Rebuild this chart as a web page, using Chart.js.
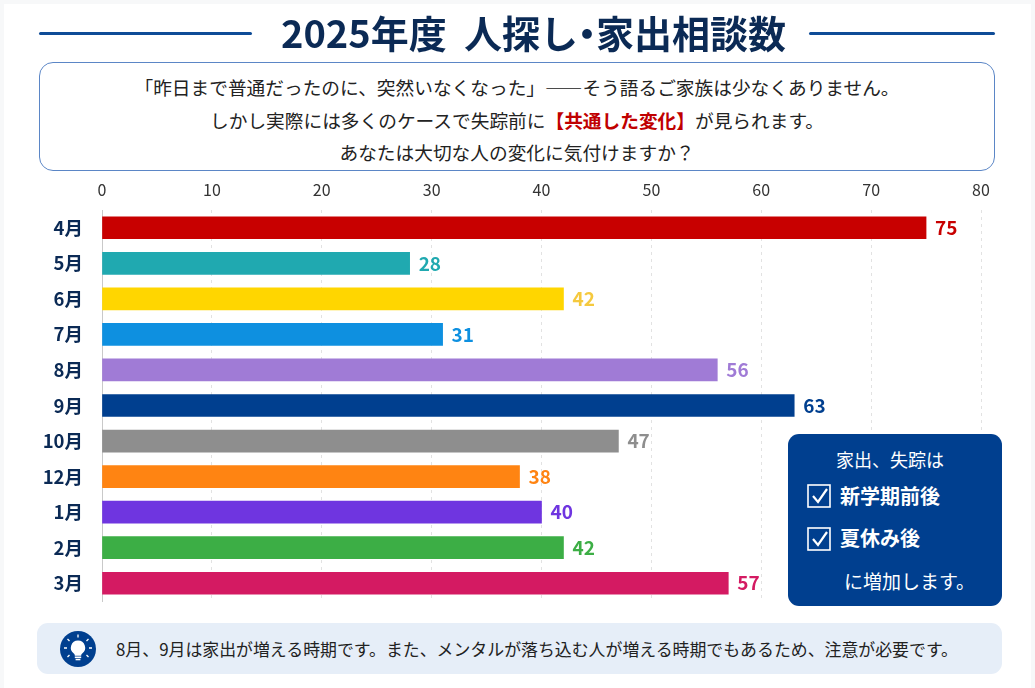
<!DOCTYPE html>
<html lang="ja"><head><meta charset="utf-8">
<script src="https://cdn.jsdelivr.net/npm/chart.js@4"></script>
<style>
*{box-sizing:border-box}
html,body{margin:0;padding:0;background:#f7f8f9;width:1035px;height:688px;overflow:hidden;font-family:"Noto Sans CJK JP","Noto Sans",sans-serif}
#card{position:absolute;left:4px;top:4px;width:1027px;height:684px;background:#fff}
canvas{position:absolute;left:0;top:0}
.abs{position:absolute}
#title{left:0;top:4px;width:1067px;text-align:center;font-size:38px;font-weight:700;line-height:56px;color:#0b2a55;white-space:pre}
#title span{margin:0 -10px}
.rule{height:3px;top:32px;background:#0f4c97;border-radius:2px}
#intro{left:39px;top:62px;width:956px;height:109px;border:1px solid #5b86c6;border-radius:14px;background:#fff;text-align:center;font-size:18.7px;color:#222;padding-top:7px}
#intro p{margin:0;height:33px;line-height:33px;white-space:nowrap}
#intro p:last-child{margin-top:-1px}
#intro b{color:#c00000;font-weight:700}
#panel{left:788px;top:434px;width:214px;height:172px;background:#003f8f;border-radius:11px;color:#fff;z-index:3}
#panel div{position:absolute;white-space:nowrap}
#note{left:37px;top:623px;width:965px;height:51px;background:#e6eef8;border-radius:11px;font-size:16.9px;color:#222;line-height:51px;padding-left:79px;white-space:nowrap}
#bulb{position:absolute;left:23px;top:8px}
</style></head><body>
<div id="card"></div>
<canvas id="c" width="1035" height="688"></canvas>
<div class="abs rule" style="left:39px;width:213px"></div>
<div class="abs rule" style="left:809px;width:186px"></div>
<div class="abs" id="title">2025年度  人探し<span>・</span>家出相談数</div>
<div class="abs" id="intro"><p>「昨日まで普通だったのに、突然いなくなった」――そう語るご家族は少なくありません。</p><p>しかし実際には多くのケースで失踪前に<b>【共通した変化】</b>が見られます。</p><p>あなたは大切な人の変化に気付けますか？</p></div>
<div class="abs" id="panel">
 <div style="left:48px;top:12px;font-size:18px;line-height:26px">家出、失踪は</div>
 <svg style="position:absolute;left:19px;top:50px" width="25" height="25" viewBox="0 0 25 25"><rect x="1" y="1" width="22" height="22" fill="none" stroke="#fff" stroke-width="1.6"/><path d="M6 12l5 6 9-13" fill="none" stroke="#fff" stroke-width="2.2"/></svg>
 <div style="left:52px;top:48px;font-size:20px;font-weight:700;line-height:28px">新学期前後</div>
 <svg style="position:absolute;left:19px;top:93px" width="25" height="25" viewBox="0 0 25 25"><rect x="1" y="1" width="22" height="22" fill="none" stroke="#fff" stroke-width="1.6"/><path d="M6 12l5 6 9-13" fill="none" stroke="#fff" stroke-width="2.2"/></svg>
 <div style="left:52px;top:90px;font-size:20px;font-weight:700;line-height:28px">夏休み後</div>
 <div style="left:56px;top:134px;font-size:19px;line-height:26px">に増加します。</div>
</div>
<div class="abs" id="note">
 <svg id="bulb" width="36" height="36" viewBox="0 0 36 36"><circle cx="18" cy="18" r="18" fill="#003f8f"/><path d="M18 9.500a7.200 7.200 0 0 0-4.200 13c.8.7 1 1.300 1 2.200h6.400c0-.9.200-1.500 1-2.200A7.200 7.200 0 0 0 18 9.500z" fill="#fff"/><rect x="14.800" y="25.500" width="6.400" height="1.600" fill="#fff"/><rect x="15.600" y="27.800" width="4.800" height="1.500" fill="#fff"/><path d="M18 3.500v3M7.500 8l2 2M28.500 8l-2 2M4 17h3M29 17h3M7.500 26l2-2M28.500 26l-2-2" stroke="#fff" stroke-width="1.300"/></svg>
 8月、9月は家出が増える時期です。また、メンタルが落ち込む人が増える時期でもあるため、注意が必要です。
</div>
<script>
const categories=["4月","5月","6月","7月","8月","9月","10月","12月","1月","2月","3月"];
const values=[75,28,42,31,56,63,47,38,40,42,57];
const barColors=["#c80000","#20a9b0","#ffd600","#0e90e0","#a07bd6","#003f8f","#8e8e8e","#ff8412","#6f35e0","#3cae45","#d41a62"];
const labelColors=["#c80000","#20a9b0","#f5c93e","#0e90e0","#a07bd6","#003f8f","#8e8e8e","#ff8412","#6f35e0","#3cae45","#d41a62"];
const axisMin=0, axisMax=80, axisStep=10;
const font='"Noto Sans CJK JP","Noto Sans",sans-serif';
const valueLabels={id:'valueLabels',afterDatasetsDraw(chart){
  const ctx=chart.ctx,meta=chart.getDatasetMeta(0);
  ctx.save();ctx.font='700 19px '+font;ctx.textAlign='left';ctx.textBaseline='middle';
  meta.data.forEach((b,i)=>{ctx.fillStyle=labelColors[i];ctx.fillText(String(values[i]),b.x+9,b.y);});
  ctx.restore();
}};
new Chart(document.getElementById('c'),{
  type:'bar',
  data:{labels:categories,datasets:[{data:values,backgroundColor:barColors,barThickness:22,borderWidth:0}]},
  plugins:[valueLabels],
  options:{
    indexAxis:'y',responsive:false,animation:false,
    devicePixelRatio:1,
    layout:{padding:{left:0,top:0,right:54,bottom:87}},
    plugins:{legend:{display:false},tooltip:{enabled:false},title:{display:false}},
    scales:{
      x:{position:'top',min:axisMin,max:axisMax,
        ticks:{stepSize:axisStep,padding:10,color:'#333',font:{family:font,size:16}},
        grid:{color:'#e2e2e2',drawTicks:false},
        border:{display:false,dash:[3,4]},
        afterFit(s){s.height=210;}},
      y:{ticks:{color:'#0b2a55',padding:19,font:{family:font,size:18.5,weight:'700'}},
        grid:{display:false,drawTicks:false},
        border:{display:true,color:'#c9c9c9',width:1},
        afterFit(s){s.width=102;}}
    }
  }
});
</script>
</body></html>
